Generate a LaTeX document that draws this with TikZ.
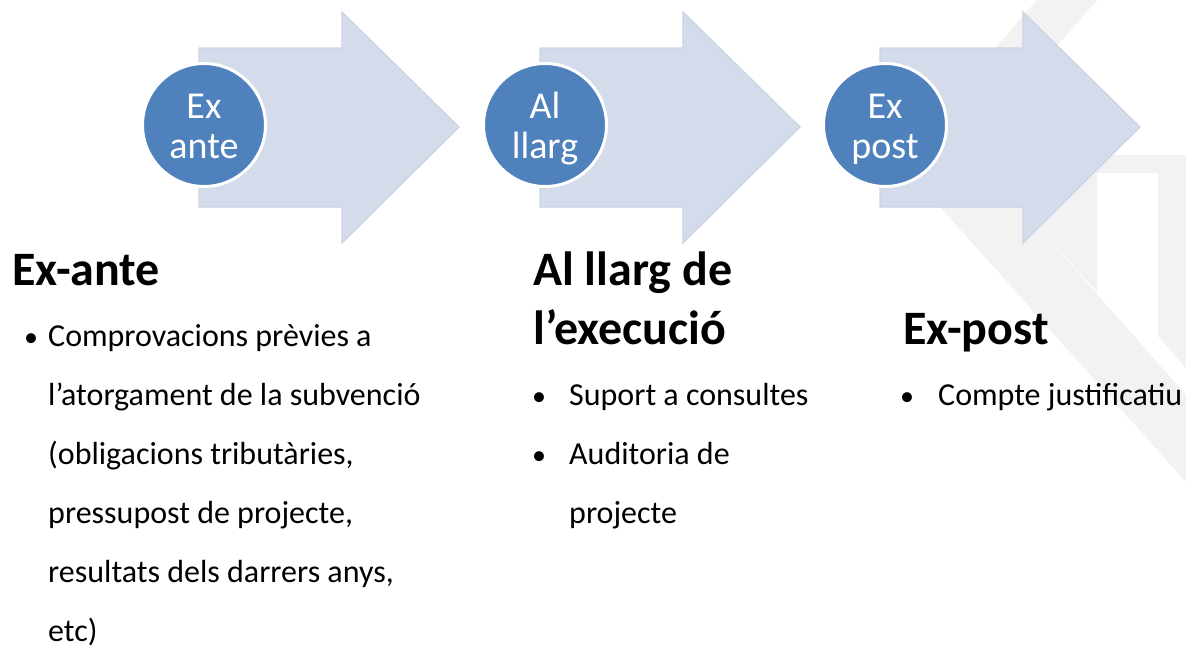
\documentclass[tikz,border=0pt]{standalone}
\usepackage{fontspec}
\setmainfont{Carlito}
\definecolor{arrowfill}{HTML}{D4DBEA}
\definecolor{arrowedge}{HTML}{CBD3E6}
\definecolor{circfill}{HTML}{4F81BD}
\definecolor{wmgray}{HTML}{F2F2F2}
\begin{document}
\begin{tikzpicture}[x=1pt,y=-1pt,
  arrowshape/.style={fill=arrowfill, draw=arrowedge, line width=1.2pt, line join=miter},
  stepcircle/.style={circle, fill=circfill, draw=white, line width=3pt, minimum size=123pt, inner sep=0pt},
  circtext/.style={anchor=base, inner sep=0pt, text=white, font=\fontsize{38}{40}\selectfont},
  heading/.style={anchor=base west, inner sep=0pt, font=\fontsize{48}{58}\selectfont\bfseries},
  bodytext/.style={anchor=base west, inner sep=0pt, font=\fontsize{32}{59}\selectfont},
  bulletmark/.style={anchor=base west, inner sep=0pt, font=\fontsize{28}{59}\selectfont},
  wm/.style={fill=wmgray, draw=none}]
\useasboundingbox (0,0) rectangle (1186,656);
\fill[white] (0,0) rectangle (1186,656);
% watermark
\fill[wm] (1037,0) -- (1097,0) -- (1045,60) -- (985,60) -- cycle;
\fill[wm] (925,190) -- (1005,190) -- (1186,395) -- (1186,482) -- cycle;
\fill[wm] (1023,155) -- (1097,155) -- (1097,292) -- (1023,210) -- cycle;
\fill[wm] (1050,155) rectangle (1186,173);
\fill[wm] (1158,155) -- (1186,155) -- (1186,368) -- (1158,336) -- cycle;
% arrows
\foreach \L in {199,540,880}
  \draw[arrowshape] (\L,48) -- ({\L+143},48) -- ({\L+143},12) -- ({\L+260},127)
     -- ({\L+143},243) -- ({\L+143},207) -- (\L,207) -- cycle;
% circles
\node[stepcircle] (c1) at (204,125) {};
\node[stepcircle] (c2) at (545,125) {};
\node[stepcircle] (c3) at (885,125) {};
\node[circtext] (c1a) at (204,118) {Ex};
\node[circtext] (c1b) at (204,158) {ante};
\node[circtext] (c2a) at (545,118) {Al};
\node[circtext] (c2b) at (545,158) {llarg};
\node[circtext] (c3a) at (885,118) {Ex};
\node[circtext] (c3b) at (885,158) {post};
% column 1
\node[heading] (h1) at (12,285) {Ex-ante};
\node[bulletmark] (b1) at (24,346) {•};
\node[bodytext] (t1a) at (48,346) {Comprovacions prèvies a};
\node[bodytext] (t1b) at (48,405) {l’atorgament de la subvenció};
\node[bodytext] (t1c) at (48,464) {(obligacions tributàries,};
\node[bodytext] (t1d) at (48,523) {pressupost de projecte,};
\node[bodytext] (t1e) at (48,582) {resultats dels darrers anys,};
\node[bodytext] (t1f) at (48,641) {etc)};
% column 2
\node[heading] (h2a) at (533,285) {Al llarg de};
\node[heading] (h2b) at (533,344) {l’execució};
\node[bulletmark] (b2a) at (532,405) {•};
\node[bodytext] (t2a) at (569,405) {Suport a consultes};
\node[bulletmark] (b2b) at (532,464) {•};
\node[bodytext] (t2b) at (569,464) {Auditoria de};
\node[bodytext] (t2c) at (569,523) {projecte};
% column 3
\node[heading] (h3) at (903,344) {Ex-post};
\node[bulletmark] (b3) at (900,405) {•};
\node[bodytext] (t3) at (938,405) {Compte justificatiu};
\end{tikzpicture}
\end{document}
